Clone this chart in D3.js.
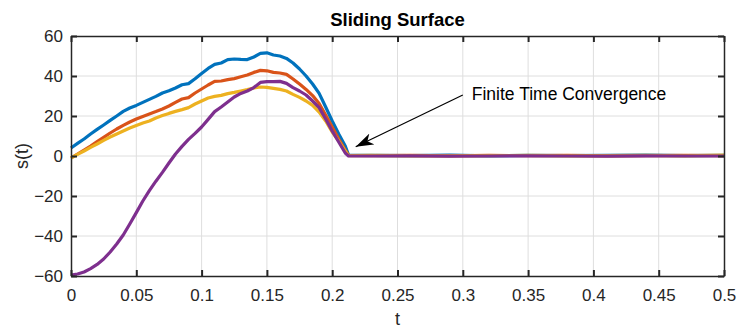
<!DOCTYPE html>
<html>
<head>
<meta charset="utf-8">
<script src="https://cdn.jsdelivr.net/npm/d3@7"></script>
<style>
  body { margin: 0; background: #fff; }
  svg text { font-family: "Liberation Sans", Arial, sans-serif; fill: #262626; }
</style>
</head>
<body>
<div id="chart"></div>
<script>
// time samples (s): reaching phase every 5 ms, then the sliding phase
var tReach = [0, 0.005, 0.01, 0.015, 0.02, 0.025, 0.03, 0.035, 0.04, 0.045, 0.05,
              0.055, 0.06, 0.065, 0.07, 0.075, 0.08, 0.085, 0.09, 0.095, 0.1,
              0.105, 0.11, 0.115, 0.12, 0.125, 0.13, 0.135, 0.14, 0.145, 0.15,
              0.155, 0.16, 0.165, 0.17, 0.175, 0.18, 0.185, 0.19, 0.195, 0.2,
              0.205, 0.21, 0.2125];
var tSlide = [0.23, 0.26, 0.29, 0.32, 0.35, 0.38, 0.41, 0.44, 0.47, 0.5];

var s1 = [4, 6.3, 8.5, 11, 13.3, 15.5, 17.8, 20, 22.3, 24, 25.3,
          26.8, 28.3, 29.8, 31.5, 32.6, 34, 35.6, 36.2, 38.6, 41.3,
          43.8, 45.8, 46.5, 48.2, 48.5, 48.3, 48.2, 49.5, 51.3, 51.6,
          50.5, 50, 48.8, 46.5, 43.5, 40, 36, 31.3, 24.5, 17.5,
          11, 5, 0.5];
var s2 = [-1, 1, 3, 5, 7.2, 9.3, 11.5, 13.5, 15.3, 17, 18.5,
          19.8, 21, 22.2, 23.5, 25, 26.8, 28.5, 29.2, 31.5, 33.5,
          35.5, 37.3, 37.5, 38.2, 38.7, 39.6, 40.5, 41.8, 42.8, 42.6,
          41.8, 41.5, 40.8, 38.5, 36, 33.3, 30.2, 26.2, 20.5, 14.5,
          8.5, 3, 0.3];
var s3 = [-1, 0.8, 2.5, 4.3, 6, 7.8, 9.5, 11, 12.5, 14, 15.3,
          16.5, 17.5, 19, 20.2, 21.3, 22.3, 23.2, 24.2, 26, 27.5,
          29, 29.8, 30.3, 31.2, 31.8, 32.5, 33.2, 34, 34.5, 34.3,
          33.8, 33.3, 32.5, 30.8, 29.3, 27.5, 25.3, 22, 17.5, 12,
          7.5, 2.5, 0.2];
var s4 = [-59.5, -59, -58, -56.3, -54.2, -51.5, -48, -44, -39.5, -34, -28.3,
          -22.5, -17.3, -12.6, -8.2, -3.5, 1, 4.8, 8.3, 11.3, 14.5,
          18.3, 22.2, 24.5, 27, 29.5, 31.3, 32.5, 34.2, 36.8, 37.2,
          37.2, 37.3, 36.3, 34.2, 32.5, 30.5, 27.5, 24.2, 18.5, 12.5,
          7, 1.5, 0];

var s1Tail = [0.3, 0.2, 0.4, 0.1, 0.3, 0.2, 0.3, 0.4, 0.2, 0.3];
var s2Tail = [0.2, 0.3, 0.1, 0.3, 0.2, 0.3, 0.1, 0.2, 0.3, 0.2];
var s3Tail = [0.3, 0.1, 0.2, 0.2, 0.3, 0.1, 0.2, 0.3, 0.1, 0.4];
var s4Tail = [0, 0.1, -0.1, 0, 0.1, 0, -0.1, 0.1, 0, 0];

var seriesColors = ["#0072BD", "#D95319", "#EDB120", "#7E2F8E"];
var xTicks = [0, 0.05, 0.1, 0.15, 0.2, 0.25, 0.3, 0.35, 0.4, 0.45, 0.5];
var yTicks = [-60, -40, -20, 0, 20, 40, 60];

var w = 737, h = 329;
var padL = 71, padR = 724, padT = 36, padB = 276;

var svg = d3.select("#chart").append("svg")
            .attr("width", w)
            .attr("height", h);

var xScale = d3.scaleLinear().domain([0, 0.5]).range([padL, padR]);
var yScale = d3.scaleLinear().domain([-60, 60]).range([padB, padT]);

// grid
svg.append("g").selectAll("line")
   .data(xTicks.slice(1, -1))
   .enter().append("line")
   .attr("x1", function(d) { return xScale(d); })
   .attr("x2", function(d) { return xScale(d); })
   .attr("y1", padT).attr("y2", padB)
   .attr("stroke", "#dedede").attr("stroke-width", 1);
svg.append("g").selectAll("line")
   .data(yTicks.slice(1, -1))
   .enter().append("line")
   .attr("y1", function(d) { return yScale(d); })
   .attr("y2", function(d) { return yScale(d); })
   .attr("x1", padL).attr("x2", padR)
   .attr("stroke", "#dedede").attr("stroke-width", 1);

// curves
var allSeries = [[s1, s1Tail], [s2, s2Tail], [s3, s3Tail], [s4, s4Tail]];
var line = d3.line()
             .x(function(d) { return xScale(d[0]); })
             .y(function(d) { return yScale(d[1]); });

allSeries.forEach(function(s, i) {
  var pts = tReach.map(function(t, j) { return [t, s[0][j]]; })
                  .concat(tSlide.map(function(t, j) { return [t, s[1][j]]; }));
  svg.append("path")
     .datum(pts)
     .attr("d", line)
     .attr("fill", "none")
     .attr("stroke", seriesColors[i])
     .attr("stroke-width", 3.2)
     .attr("stroke-linejoin", "round");
});

// axes (box with ticks on all sides, ticks pointing inward)
var axisColor = "#262626";
var xAxisB = d3.axisBottom(xScale).tickValues(xTicks).tickSizeInner(-6).tickSizeOuter(0).tickPadding(13)
               .tickFormat(d3.format("~g"));
var xAxisT = d3.axisTop(xScale).tickValues(xTicks).tickSizeInner(-6).tickSizeOuter(0).tickFormat("");
var yAxisL = d3.axisLeft(yScale).tickValues(yTicks).tickSizeInner(-6).tickSizeOuter(0).tickPadding(8);
var yAxisR = d3.axisRight(yScale).tickValues(yTicks).tickSizeInner(-6).tickSizeOuter(0).tickFormat("");

function styleAxis(g) {
  g.selectAll("path").attr("stroke", axisColor).attr("stroke-width", 1.5);
  g.selectAll("line").attr("stroke", axisColor).attr("stroke-width", 2);
  g.selectAll("text").attr("font-size", 17).attr("fill", axisColor)
   .attr("font-family", "Liberation Sans, Arial, sans-serif");
}

svg.append("g").attr("transform", "translate(0," + padB + ")").call(xAxisB).call(styleAxis);
svg.append("g").attr("transform", "translate(0," + padT + ")").call(xAxisT).call(styleAxis);
svg.append("g").attr("transform", "translate(" + padL + ",0)").call(yAxisL).call(styleAxis);
svg.append("g").attr("transform", "translate(" + padR + ",0)").call(yAxisR).call(styleAxis);

// title and axis labels
svg.append("text")
   .attr("x", (padL + padR) / 2).attr("y", 26)
   .attr("text-anchor", "middle")
   .attr("font-size", 18.5).attr("font-weight", "bold")
   .style("fill", "#000")
   .text("Sliding Surface");
svg.append("text")
   .attr("x", (padL + padR) / 2).attr("y", 325)
   .attr("text-anchor", "middle")
   .attr("font-size", 18)
   .text("t");
svg.append("text")
   .attr("transform", "translate(28," + yScale(0) + ") rotate(-90)")
   .attr("text-anchor", "middle")
   .attr("font-size", 18)
   .text("s(t)");

// annotation arrow
svg.append("defs").append("marker")
   .attr("id", "head")
   .attr("viewBox", "0 0 18 12")
   .attr("refX", 18).attr("refY", 6)
   .attr("markerWidth", 18).attr("markerHeight", 12)
   .attr("markerUnits", "userSpaceOnUse")
   .attr("orient", "auto")
   .append("path")
   .attr("d", "M0,0 L18,6 L0,12 L5,6 Z")
   .attr("fill", "#000");

svg.append("line")
   .attr("x1", xScale(0.3)).attr("y1", yScale(30.5))
   .attr("x2", xScale(0.218)).attr("y2", yScale(4.6))
   .attr("stroke", "#000").attr("stroke-width", 1.2)
   .attr("marker-end", "url(#head)");
svg.append("text")
   .attr("x", xScale(0.3) + 9).attr("y", yScale(28))
   .attr("font-size", 17.5)
   .style("fill", "#000")
   .text("Finite Time Convergence");
</script>
</body>
</html>
